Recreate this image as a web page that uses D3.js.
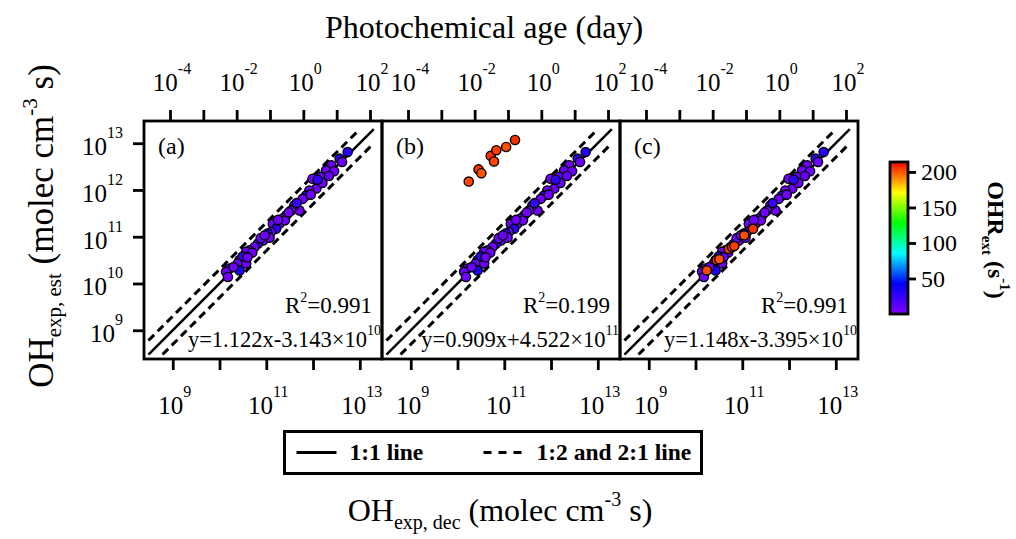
<!DOCTYPE html>
<html>
<head>
<meta charset="utf-8">
<script src="https://cdn.jsdelivr.net/npm/d3@7"></script>
<style>
  body { margin: 0; background: #fff; }
  svg text { font-family: "Liberation Serif", "Times New Roman", serif; fill: #000; }
</style>
</head>
<body>
<div id="chart"></div>
<script>
// values are log10 of OH exposure (molec cm-3 s)
const panelTags = ['(a)', '(b)', '(c)'];
const r2Values = ['0.991', '0.199', '0.991'];
const fitText = ['y=1.122x-3.143×10', 'y=0.909x+4.522×10', 'y=1.148x-3.395×10'];
const fitExp = ['10', '11', '10'];

const baseX = [12.74, 12.57, 12.39, 12.28, 12.17, 11.99, 12.07, 11.92, 11.85, 11.78, 11.71, 11.60, 11.53,
  11.43, 11.35, 11.28, 11.14, 11.21, 11.10, 11.00, 11.03, 10.93, 10.82, 10.75, 10.64, 10.57, 10.43,
  10.39, 10.57, 10.43, 10.21, 10.14, 10.18, 12.62, 12.45, 12.20, 12.10, 11.95, 11.65, 11.40, 11.25,
  11.07, 10.88, 10.70, 10.50, 10.30, 10.60, 10.97, 11.48, 12.34];
const baseY = [12.81, 12.67, 12.53, 12.42, 12.28, 12.24, 12.03, 11.99, 11.88, 11.81, 11.56, 11.67, 11.56,
  11.46, 11.39, 11.28, 11.28, 11.17, 11.10, 11.00, 11.07, 10.92, 10.85, 10.78, 10.71, 10.68, 10.50,
  10.43, 10.43, 10.28, 10.32, 10.25, 10.14, 12.60, 12.40, 12.15, 12.22, 11.90, 11.72, 11.35, 11.36,
  10.98, 10.97, 10.66, 10.58, 10.35, 10.56, 11.03, 11.52, 12.30];
const baseOHR = [30, 28, 6, 5, 7, 4, 5, 6, 26, 5, 4, 7, 5,
  24, 5, 8, 4, 27, 5, 6, 30, 5, 27, 4, 7, 5, 6,
  8, 5, 33, 6, 7, 4, 6, 5, 6, 26, 5, 25, 5, 6,
  4, 7, 5, 28, 6, 5, 6, 5, 8];

const redX = [10.24, 10.45, 10.51, 10.71, 10.78, 10.83, 11.04, 11.23];
const redYb = [12.18, 12.44, 12.36, 12.73, 12.61, 12.85, 12.92, 13.07];
const redYc = [10.28, 10.50, 10.52, 10.74, 10.78, 10.80, 11.03, 11.17];
const redOHR = [202, 205, 200, 206, 203, 204, 201, 206];

const ohTicks = [9, 10, 11, 12, 13];
const ohLabels = [9, 11, 13];
const ageTicks = [-4, -3, -2, -1, 0, 1, 2];
const ageLabels = [-4, -2, 0, 2];
const ohrTicks = [50, 100, 150, 200];
const rainbowStops = [0, 42.8, 85.6, 128.4, 171.2, 214];
const rainbowColors = ['#8000ff', '#0000ff', '#00ffff', '#00ff00', '#ffff00', '#ff0000'];
const legendItems = [
  { label: '1:1 line', dash: null },
  { label: '1:2 and 2:1 line', dash: '8,7' }
];

const W = 1016, H = 539;
const P = 238, panelTop = 121;
const lefts = [144, 382, 620];

const svg = d3.select('#chart').append('svg').attr('width', W).attr('height', H);

const color = d3.scaleLinear().domain(rainbowStops).range(rainbowColors);
const x = d3.scaleLog().domain([Math.pow(10, 8.385), Math.pow(10, 13.475)]).range([0, P]);
const y = d3.scaleLog().domain([Math.pow(10, 8.385), Math.pow(10, 13.475)]).range([P, 0]);
const xAge = d3.scaleLog().domain([Math.pow(10, -4.78), Math.pow(10, 2.36)]).range([0, P]);

// text with sub/superscripts: parts = [[text, 'sup'|'sub'|null], ...]
function rich(sel, parts, size, small, up, down) {
  let cur = 0;
  parts.forEach(([t, kind]) => {
    const target = kind === 'sup' ? -up : kind === 'sub' ? down : 0;
    sel.append('tspan')
      .attr('dy', target - cur)
      .style('font-size', (kind ? small : size) + 'px')
      .text(t);
    cur = target;
  });
  return sel;
}

const defs = svg.append('defs');
defs.append('clipPath').attr('id', 'panelClip')
  .append('rect').attr('width', P).attr('height', P);

const lo = Math.pow(10, 8.48), hi = Math.pow(10, 13.3);
const refLines = [
  { r: 1, dash: null, w: 2.5 },
  { r: 2, dash: '8,5', w: 3 },
  { r: 0.5, dash: '8,5', w: 3 }
];

lefts.forEach((left, i) => {
  const g = svg.append('g').attr('transform', `translate(${left},${panelTop})`);

  const inner = g.append('g').attr('clip-path', 'url(#panelClip)');
  refLines.forEach(l => {
    const x0 = Math.max(lo, lo / l.r), x1 = Math.min(hi, hi / l.r);
    inner.append('line')
      .attr('x1', x(x0)).attr('y1', y(x0 * l.r))
      .attr('x2', x(x1)).attr('y2', y(x1 * l.r))
      .attr('stroke', '#000')
      .attr('stroke-width', l.w)
      .attr('stroke-dasharray', l.dash);
  });

  let pts = baseX.map((v, k) => ({ x: v, y: baseY[k], c: baseOHR[k] }));
  if (i === 1) pts = pts.concat(redX.map((v, k) => ({ x: v, y: redYb[k], c: redOHR[k] })));
  if (i === 2) pts = pts.concat(redX.map((v, k) => ({ x: v, y: redYc[k], c: redOHR[k] })));

  inner.selectAll('circle')
    .data(pts)
    .enter()
    .append('circle')
    .attr('cx', d => x(Math.pow(10, d.x)))
    .attr('cy', d => y(Math.pow(10, d.y)))
    .attr('r', 4.6)
    .attr('fill', d => color(d.c))
    .attr('stroke', '#000')
    .attr('stroke-width', 1.4);

  g.append('rect')
    .attr('width', P).attr('height', P)
    .attr('fill', 'none').attr('stroke', '#000').attr('stroke-width', 2.8);

  // bottom axis
  const bAx = g.append('g').attr('transform', `translate(0,${P})`)
    .call(d3.axisBottom(x).tickValues(ohTicks.map(e => Math.pow(10, e))).tickSize(11).tickFormat(''));
  bAx.select('.domain').remove();
  bAx.selectAll('.tick line').attr('stroke-width', 2.8);
  ohLabels.forEach(e => {
    rich(g.append('text')
      .attr('x', x(Math.pow(10, e)) + 2).attr('y', 293)
      .attr('text-anchor', 'middle'), [['10', null], [String(e), 'sup']], 25, 16, 17, 0);
  });

  // top axis (photochemical age)
  const tAx = g.append('g')
    .call(d3.axisTop(xAge).tickValues(ageTicks.map(e => Math.pow(10, e))).tickSize(11).tickFormat(''));
  tAx.select('.domain').remove();
  tAx.selectAll('.tick line').attr('stroke-width', 2.8);
  ageLabels.forEach(e => {
    rich(g.append('text')
      .attr('x', xAge(Math.pow(10, e)) + 2).attr('y', -30)
      .attr('text-anchor', 'middle'), [['10', null], [String(e), 'sup']], 25, 16, 17, 0);
  });

  // left axis only on first panel
  if (i === 0) {
    const lAx = g.append('g')
      .call(d3.axisLeft(y).tickValues(ohTicks.map(e => Math.pow(10, e))).tickSize(11).tickFormat(''));
    lAx.select('.domain').remove();
    lAx.selectAll('.tick line').attr('stroke-width', 2.8);
    ohTicks.forEach(e => {
      rich(g.append('text')
        .attr('x', -21).attr('y', y(Math.pow(10, e)) + 12)
        .attr('text-anchor', 'end'), [['10', null], [String(e), 'sup']], 25, 16, 17, 0);
    });
  }

  g.append('text').attr('x', 14).attr('y', 33).style('font-size', '24px').text(panelTags[i]);

  rich(g.append('text').attr('x', P - 10).attr('y', 192).attr('text-anchor', 'end'),
    [['R', null], ['2', 'sup'], ['=' + r2Values[i], null]], 23, 14, 11, 0);

  rich(g.append('text').attr('x', P - 1).attr('y', 226).attr('text-anchor', 'end'),
    [[fitText[i], null], [fitExp[i], 'sup']], 22.5, 14, 12, 0);
});

// axis titles
svg.append('text').attr('x', 484).attr('y', 38).attr('text-anchor', 'middle')
  .style('font-size', '32px').text('Photochemical age (day)');

rich(svg.append('text').attr('x', 500).attr('y', 521).attr('text-anchor', 'middle'),
  [['OH', null], ['exp, dec', 'sub'], [' (molec cm', null], ['-3', 'sup'], [' s)', null]], 32, 20, 15, 8);

rich(svg.append('text').attr('transform', 'translate(53,226) rotate(-90)').attr('text-anchor', 'middle'),
  [['OH', null], ['exp, est', 'sub'], [' (molec cm', null], ['-3', 'sup'], [' s)', null]], 35, 21, 16, 8);

// colour bar
const cb = { x: 890, y: 162, w: 18, h: 152 };
const ohrScale = d3.scaleLinear().domain([0, 214]).range([cb.y + cb.h, cb.y]);
const grad = defs.append('linearGradient').attr('id', 'rainbow')
  .attr('x1', '0%').attr('y1', '100%').attr('x2', '0%').attr('y2', '0%');
rainbowStops.forEach((s, k) => {
  grad.append('stop').attr('offset', (s / 214 * 100) + '%').attr('stop-color', rainbowColors[k]);
});
svg.append('rect').attr('x', cb.x).attr('y', cb.y).attr('width', cb.w).attr('height', cb.h)
  .attr('fill', 'url(#rainbow)').attr('stroke', '#000').attr('stroke-width', 2.8);
const cAx = svg.append('g').attr('transform', `translate(${cb.x + cb.w},0)`)
  .call(d3.axisRight(ohrScale).tickValues(ohrTicks).tickSize(8).tickPadding(5));
cAx.select('.domain').remove();
cAx.selectAll('.tick line').attr('stroke-width', 2.8);
cAx.selectAll('.tick text')
  .style('font-family', '"Liberation Serif", "Times New Roman", serif')
  .style('font-size', '24px');

rich(svg.append('text').attr('transform', 'translate(988,240) rotate(90)').attr('text-anchor', 'middle')
  .style('font-weight', 'bold'),
  [['OHR', null], ['ext', 'sub'], [' (s', null], ['-1', 'sup'], [')', null]], 24, 15, 12, 6);

// legend
const lg = svg.append('g').attr('transform', 'translate(284.5,431.5)');
lg.append('rect').attr('width', 417).attr('height', 42)
  .attr('fill', 'none').attr('stroke', '#000').attr('stroke-width', 3);
const legendX = [12, 199];
legendItems.forEach((item, k) => {
  lg.append('line')
    .attr('x1', legendX[k]).attr('x2', legendX[k] + 40)
    .attr('y1', 21).attr('y2', 21)
    .attr('stroke', '#000').attr('stroke-width', 3)
    .attr('stroke-dasharray', item.dash);
  lg.append('text')
    .attr('x', legendX[k] + 53).attr('y', 28.5)
    .style('font-size', '23.5px').style('font-weight', 'bold')
    .text(item.label);
});
</script>
</body>
</html>
